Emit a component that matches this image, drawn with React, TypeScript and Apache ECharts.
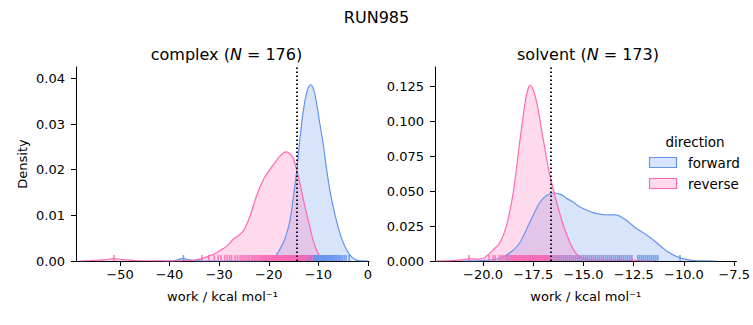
import React, { useEffect, useRef } from 'react';
import * as echarts from 'echarts';

// ---- Data ----
const complexForwardX = [-41, -39, -38, -37.2, -36.4, -35, -33, -25, -21, -19.5, -18.5, -17.8, -17, -16.4, -15.7, -15.1, -14.4, -13.75, -13.1, -12.4, -11.9, -11.5, -11.1, -10.7, -10.2, -9.7, -9.05, -8.4, -7.7, -7.0, -6.4, -5.4, -4.35, -3.3, -2.3, -1.0, 0];
const complexForwardY = [0, 0.0001, 0.0004, 0.0006, 0.0003, 0.0001, 0, 0, 0.0001, 0.0005, 0.0013, 0.0025, 0.0042, 0.006, 0.009, 0.0135, 0.0195, 0.0265, 0.0325, 0.0368, 0.0383, 0.0386, 0.038, 0.0365, 0.0335, 0.03, 0.0258, 0.0205, 0.0156, 0.0118, 0.009, 0.0052, 0.0025, 0.0009, 0.0002, 0.00002, 0];

const complexReverseX = [-58, -56, -53, -51.2, -49.5, -47, -44, -40, -37, -35, -33.9, -32.5, -31.5, -30.5, -29.5, -28.5, -27.2, -25.2, -23.8, -22.5, -21.1, -19.8, -18.8, -17.8, -17.0, -16.4, -15.7, -15.1, -14.4, -13.75, -13.1, -12.4, -11.7, -11.1, -10.4, -9.7, -8.8, -8];
const complexReverseY = [0, 0.0001, 0.0003, 0.0005, 0.0003, 0.0001, 0.00005, 0.00002, 0.0001, 0.0002, 0.0004, 0.0009, 0.0013, 0.0018, 0.0025, 0.0032, 0.0047, 0.0065, 0.0098, 0.0142, 0.0178, 0.02, 0.0215, 0.0229, 0.0237, 0.0239, 0.0234, 0.0226, 0.02, 0.0171, 0.0138, 0.0105, 0.0074, 0.0047, 0.0025, 0.001, 0.0002, 0];

const solventForwardX = [-21, -20, -19.6, -19.17, -18.68, -18.18, -17.69, -17.19, -16.86, -16.45, -16.1, -15.87, -15.5, -15.21, -14.85, -14.55, -14.2, -13.89, -13.4, -12.9, -12.4, -11.75, -11.25, -10.76, -10.26, -9.6, -9.0, -8.4];
const solventForwardY = [0, 0.0003, 0.0009, 0.002, 0.0057, 0.0129, 0.0272, 0.0415, 0.0467, 0.0487, 0.0475, 0.0451, 0.042, 0.039, 0.0365, 0.0348, 0.0336, 0.0331, 0.033, 0.0296, 0.0236, 0.0176, 0.0117, 0.0062, 0.0026, 0.0005, 0.0001, 0];

const solventReverseX = [-22.3, -21.5, -21, -20.66, -20.3, -20, -19.5, -19.17, -18.84, -18.5, -18.18, -17.85, -17.65, -17.36, -17.03, -16.7, -16.37, -16.04, -15.7, -15.38, -15.05, -14.5, -14, -13.5, -13, -12.5, -12, -11.5];
const solventReverseY = [0, 0.0003, 0.001, 0.0016, 0.0014, 0.0018, 0.008, 0.0129, 0.0248, 0.0487, 0.0845, 0.118, 0.126, 0.1155, 0.0892, 0.063, 0.0439, 0.0272, 0.014, 0.0057, 0.002, 0.0008, 0.0006, 0.0007, 0.0005, 0.0004, 0.0001, 0];

// rug samples
const complexForwardRug = [-37.2, -19.0, -18.3, -17.8, -17.4, -17.1, -16.8, -16.5, -16.2, -16.0, -15.8, -15.6, -15.4, -15.2, -15.0, -14.9, -14.7, -14.6, -14.4, -14.3, -14.1, -14.0, -13.9, -13.8, -13.6, -13.5, -13.4, -13.3, -13.2, -13.1, -13.0, -12.9, -12.8, -12.7, -12.6, -12.5, -12.4, -12.3, -12.2, -12.1, -12.0, -11.9, -11.8, -11.7, -11.6, -11.5, -11.4, -11.3, -11.2, -11.1, -11.0, -10.9, -10.8, -10.7, -10.6, -10.5, -10.4, -10.3, -10.2, -10.1, -10.0, -9.8, -9.6, -9.5, -9.3, -9.2, -9.0, -8.9, -8.7, -8.6, -8.4, -8.3, -8.1, -8.0, -7.8, -7.6, -7.4, -7.2, -7.0, -6.8, -6.5, -6.3, -6.0, -5.8, -5.5, -5.2, -4.8, -4.4, -3.8];
const complexReverseRug = [-51.2, -33.5, -32.1, -31.0, -30.2, -29.6, -28.9, -28.4, -27.9, -27.5, -26.8, -26.3, -25.8, -25.4, -25.0, -24.6, -24.2, -23.9, -23.5, -23.2, -22.9, -22.6, -22.3, -22.0, -21.7, -21.5, -21.2, -21.0, -20.8, -20.6, -20.4, -20.2, -20.0, -19.8, -19.6, -19.4, -19.2, -19.0, -18.8, -18.7, -18.5, -18.3, -18.1, -18.0, -17.8, -17.7, -17.5, -17.4, -17.2, -17.1, -16.9, -16.8, -16.6, -16.5, -16.3, -16.2, -16.0, -15.9, -15.7, -15.6, -15.4, -15.3, -15.1, -15.0, -14.8, -14.7, -14.5, -14.4, -14.2, -14.0, -13.8, -13.6, -13.4, -13.2, -12.9, -12.7, -12.4, -12.1, -11.7, -11.2];
const solventForwardRug = [-18.8, -18.6, -18.4, -18.2, -18.0, -17.9, -17.7, -17.6, -17.5, -17.4, -17.3, -17.2, -17.1, -17.0, -16.9, -16.8, -16.7, -16.6, -16.5, -16.4, -16.3, -16.2, -16.1, -16.0, -15.9, -15.8, -15.7, -15.6, -15.5, -15.4, -15.3, -15.2, -15.1, -15.0, -14.9, -14.8, -14.7, -14.6, -14.5, -14.4, -14.3, -14.2, -14.1, -14.0, -13.9, -13.8, -13.7, -13.6, -13.5, -13.4, -13.3, -13.2, -13.1, -13.0, -12.9, -12.8, -12.7, -12.6, -12.3, -12.2, -12.1, -12.0, -11.9, -11.8, -11.7, -11.6, -11.5, -11.4, -11.3, -10.2];
const solventReverseRug = [-20.7, -19.7, -19.5, -19.4, -19.2, -19.1, -19.0, -18.9, -18.8, -18.75, -18.7, -18.6, -18.55, -18.5, -18.45, -18.4, -18.35, -18.3, -18.25, -18.2, -18.15, -18.1, -18.05, -18.0, -17.95, -17.9, -17.85, -17.8, -17.75, -17.7, -17.65, -17.6, -17.55, -17.5, -17.45, -17.4, -17.35, -17.3, -17.25, -17.2, -17.15, -17.1, -17.05, -17.0, -16.95, -16.9, -16.85, -16.8, -16.75, -16.7, -16.6, -16.5, -16.4, -16.3, -16.2, -16.1, -15.9, -15.8, -15.6, -15.5, -15.3, -15.1, -14.8, -14.5, -14.1, -13.7, -13.2, -12.6];

const complexMarker = -14.4;
const solventMarker = -16.65;

const complexXTicks = [-50, -40, -30, -20, -10, 0];
const solventXTicks = [-20, -17.5, -15, -12.5, -10, -7.5];
const complexYTicks = [0, 0.01, 0.02, 0.03, 0.04];
const solventYTicks = [0, 0.025, 0.05, 0.075, 0.1, 0.125];

const FONT = 'DejaVu Sans';
const BLUE = '#6495ED';
const PINK = '#FF69B4';

const zip = (xs: number[], ys: number[]) => xs.map((x, i) => [x, ys[i]]);
const minus = (s: string) => s.replace('-', '\u2212');

function App() {
  const ref = useRef<HTMLDivElement>(null);
  useEffect(() => {
    const chart = echarts.init(ref.current!, null, { renderer: 'svg' });
    const xAxisBase = (idx: number, min: number, max: number, ticks: number[], digits: number) => ({
      type: 'value',
      gridIndex: idx,
      min,
      max,
      name: 'work / kcal mol\u207B\u00B9',
      nameLocation: 'middle',
      nameGap: 29,
      nameTextStyle: { fontFamily: FONT, fontSize: 13, color: '#000' },
      axisLine: { show: true, onZero: false, lineStyle: { color: '#000', width: 1 } },
      axisTick: { show: true, length: 5, customValues: ticks, lineStyle: { color: '#000' } },
      axisLabel: {
        customValues: ticks,
        margin: 7,
        fontFamily: FONT,
        fontSize: 13,
        color: '#000',
        formatter: (v: number) => (v === 0 ? '0' : minus(v.toFixed(digits))),
      },
      splitLine: { show: false },
    });
    const yAxisBase = (idx: number, max: number, ticks: number[], digits: number, name: string) => ({
      type: 'value',
      gridIndex: idx,
      min: 0,
      max,
      name,
      nameLocation: 'middle',
      nameGap: 47,
      nameRotate: 90,
      nameTextStyle: { fontFamily: FONT, fontSize: 13, color: '#000' },
      axisLine: { show: true, onZero: false, lineStyle: { color: '#000', width: 1 } },
      axisTick: { show: true, length: 5, customValues: ticks, lineStyle: { color: '#000' } },
      axisLabel: {
        customValues: ticks,
        margin: 11,
        fontFamily: FONT,
        fontSize: 13,
        color: '#000',
        formatter: (v: number) => v.toFixed(digits),
      },
      splitLine: { show: false },
    });
    const kde = (idx: number, name: string, data: number[][], color: string, marker?: number) => ({
      type: 'line',
      name,
      xAxisIndex: idx,
      yAxisIndex: idx,
      data,
      smooth: 0.3,
      showSymbol: false,
      lineStyle: { color, width: 1.2 },
      itemStyle: { color },
      areaStyle: { color, opacity: 0.25 },
      z: 2,
      markLine:
        marker === undefined
          ? undefined
          : {
              silent: true,
              symbol: ['none', 'none'],
              label: { show: false },
              lineStyle: { color: '#000', type: [1.5, 2.5], width: 1.8 },
              data: [{ xAxis: marker }],
              z: 5,
            },
    });
    const rug = (idx: number, values: number[], color: string) => ({
      type: 'scatter',
      xAxisIndex: idx,
      yAxisIndex: idx,
      data: values.map((v) => [v, 0]),
      symbol: 'rect',
      symbolSize: [1.6, 6],
      symbolOffset: [0, -3],
      clip: false,
      itemStyle: { color, opacity: 0.85 },
      z: 3,
    });
    const legendText = { fontFamily: FONT, fontSize: 13.5, fill: '#000' };
    chart.setOption({
      animation: false,
      backgroundColor: '#fff',
      title: {
        text: 'RUN985',
        left: 'center',
        top: 4,
        textStyle: { fontFamily: FONT, fontSize: 16, fontWeight: 'normal', color: '#000' },
      },
      grid: [
        { left: 76, top: 67, width: 293, height: 194 },
        { left: 435, top: 67, width: 303, height: 194 },
      ],
      xAxis: [
        xAxisBase(0, -58.86, 0.2, complexXTicks, 0),
        xAxisBase(1, -22.39, -7.39, solventXTicks, 1),
      ],
      yAxis: [
        yAxisBase(0, 0.0425, complexYTicks, 2, 'Density'),
        yAxisBase(1, 0.1389, solventYTicks, 3, ''),
      ],
      series: [
        kde(0, 'forward', zip(complexForwardX, complexForwardY), BLUE, complexMarker),
        kde(0, 'reverse', zip(complexReverseX, complexReverseY), PINK),
        kde(1, 'forward', zip(solventForwardX, solventForwardY), BLUE, solventMarker),
        kde(1, 'reverse', zip(solventReverseX, solventReverseY), PINK),
        rug(0, complexForwardRug, BLUE),
        rug(0, complexReverseRug, PINK),
        rug(1, solventForwardRug, BLUE),
        rug(1, solventReverseRug, PINK),
      ],
      graphic: [
        {
          type: 'text',
          x: 226.5,
          y: 54,
          style: {
            text: '{a|complex (}{i|N}{a| = 176)}',
            align: 'center',
            verticalAlign: 'middle',
            rich: {
              a: { fontFamily: FONT, fontSize: 16, fill: '#000' },
              i: { fontFamily: FONT, fontSize: 16, fontStyle: 'italic', fill: '#000' },
            },
          },
        },
        {
          type: 'text',
          x: 588,
          y: 54,
          style: {
            text: '{a|solvent (}{i|N}{a| = 173)}',
            align: 'center',
            verticalAlign: 'middle',
            rich: {
              a: { fontFamily: FONT, fontSize: 16, fill: '#000' },
              i: { fontFamily: FONT, fontSize: 16, fontStyle: 'italic', fill: '#000' },
            },
          },
        },
        {
          type: 'text',
          x: 695,
          y: 142,
          style: { ...legendText, text: 'direction', align: 'center', verticalAlign: 'middle' },
        },
        {
          type: 'rect',
          shape: { x: 649.5, y: 157.5, width: 27, height: 10 },
          style: { fill: 'rgba(100,149,237,0.25)', stroke: BLUE, lineWidth: 1.2 },
        },
        {
          type: 'text',
          x: 688,
          y: 162.5,
          style: { ...legendText, text: 'forward', align: 'left', verticalAlign: 'middle' },
        },
        {
          type: 'rect',
          shape: { x: 649.5, y: 178.5, width: 27, height: 10 },
          style: { fill: 'rgba(255,105,180,0.25)', stroke: PINK, lineWidth: 1.2 },
        },
        {
          type: 'text',
          x: 688,
          y: 183.5,
          style: { ...legendText, text: 'reverse', align: 'left', verticalAlign: 'middle' },
        },
      ],
    });
    return () => chart.dispose();
  }, []);
  return <div ref={ref} style={{ position: 'absolute', left: 0, top: 0, width: 753, height: 325 }} />;
}

export default App;
